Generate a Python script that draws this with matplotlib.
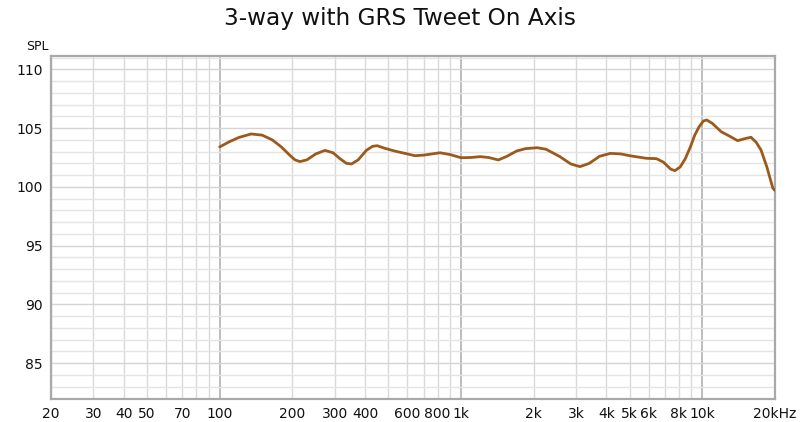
import numpy as np
import matplotlib
matplotlib.use("Agg")
import matplotlib.pyplot as plt
from matplotlib.ticker import FixedLocator, NullFormatter

# frequency response (Hz, dB SPL)
freq = [100, 110, 120, 135, 150, 165, 180, 195, 205, 215, 230, 250, 273, 295,
        315, 335, 352, 375, 405, 430, 450, 480, 530, 600, 643, 700, 818, 900,
        1000, 1100, 1200, 1300, 1428, 1550, 1700, 1850, 2067, 2250, 2570, 2850,
        3110, 3400, 3750, 4157, 4600, 5000, 5860, 6450, 6900, 7400, 7700, 8100,
        8500, 8930, 9300, 9700, 10100, 10420, 11000, 11950, 13000, 14000, 15000,
        15900, 16700, 17500, 18500, 19600, 20000]
spl = [103.4, 103.85, 104.2, 104.5, 104.4, 104.0, 103.4, 102.7, 102.3, 102.15,
       102.3, 102.8, 103.1, 102.9, 102.4, 102.0, 101.95, 102.3, 103.1, 103.45,
       103.5, 103.3, 103.05, 102.8, 102.65, 102.7, 102.9, 102.75, 102.48, 102.5,
       102.57, 102.5, 102.29, 102.6, 103.05, 103.25, 103.33, 103.2, 102.57,
       101.95, 101.72, 102.0, 102.6, 102.85, 102.8, 102.65, 102.43, 102.4, 102.1,
       101.5, 101.38, 101.7, 102.4, 103.42, 104.4, 105.12, 105.6, 105.69, 105.4,
       104.7, 104.3, 103.93, 104.1, 104.22, 103.8, 103.14, 101.7, 99.88, 99.7]

xtick_vals = [20, 30, 40, 50, 70, 100, 200, 300, 400, 600, 800, 1000, 2000,
              3000, 4000, 5000, 6000, 8000, 10000, 20000]
xtick_text = ["20", "30", "40", "50", "70", "100", "200", "300", "400", "600",
              "800", "1k", "2k", "3k", "4k", "5k", "6k", "8k", "10k", "20kHz"]
ytick_vals = [85, 90, 95, 100, 105, 110]

fig = plt.figure(figsize=(8, 4.22), dpi=100)
ax = fig.add_axes([51 / 800, 23 / 422, 724 / 800, 343 / 422])

ax.set_xscale("log")
ax.set_xlim(20, 20000)
ax.set_ylim(81.96, 111.13)

# grid: every decade step plus every dB
minor_x = [m * 10 ** d for d in range(1, 5) for m in range(1, 10)
           if 20 <= m * 10 ** d <= 20000 and m != 1]
for v in minor_x:
    ax.axvline(v, color="#dadada", lw=1.0, zorder=0)
for v in [100, 1000, 10000]:
    ax.axvline(v, color="#b2b2b2", lw=1.2, zorder=0)
for v in range(82, 112):
    ax.axhline(v, color="#d4d4d4" if v % 5 == 0 else "#e4e4e4", lw=1.0, zorder=0)

ax.plot(freq, spl, color="#9b5a1c", lw=2.0, solid_joinstyle="round",
        solid_capstyle="round", zorder=3)

ax.xaxis.set_major_locator(FixedLocator(xtick_vals))
ax.set_xticklabels(xtick_text)
ax.xaxis.set_minor_formatter(NullFormatter())
ax.set_yticks(ytick_vals)
ax.tick_params(axis="both", which="both", length=0, labelsize=10, colors="#111111")
ax.tick_params(axis="x", pad=6)
ax.tick_params(axis="y", pad=6)

for s in ax.spines.values():
    s.set_color("#a9a9a9")
    s.set_linewidth(1.6)

fig.text(0.5, 1 - 18 / 422, "3-way with GRS Tweet On Axis", ha="center",
         va="center", fontsize=16.7, color="#111111")
fig.text(37 / 800, 1 - 47 / 422, "SPL", ha="center", va="center", fontsize=9,
         color="#111111")

fig.savefig("out.png", dpi=100)
